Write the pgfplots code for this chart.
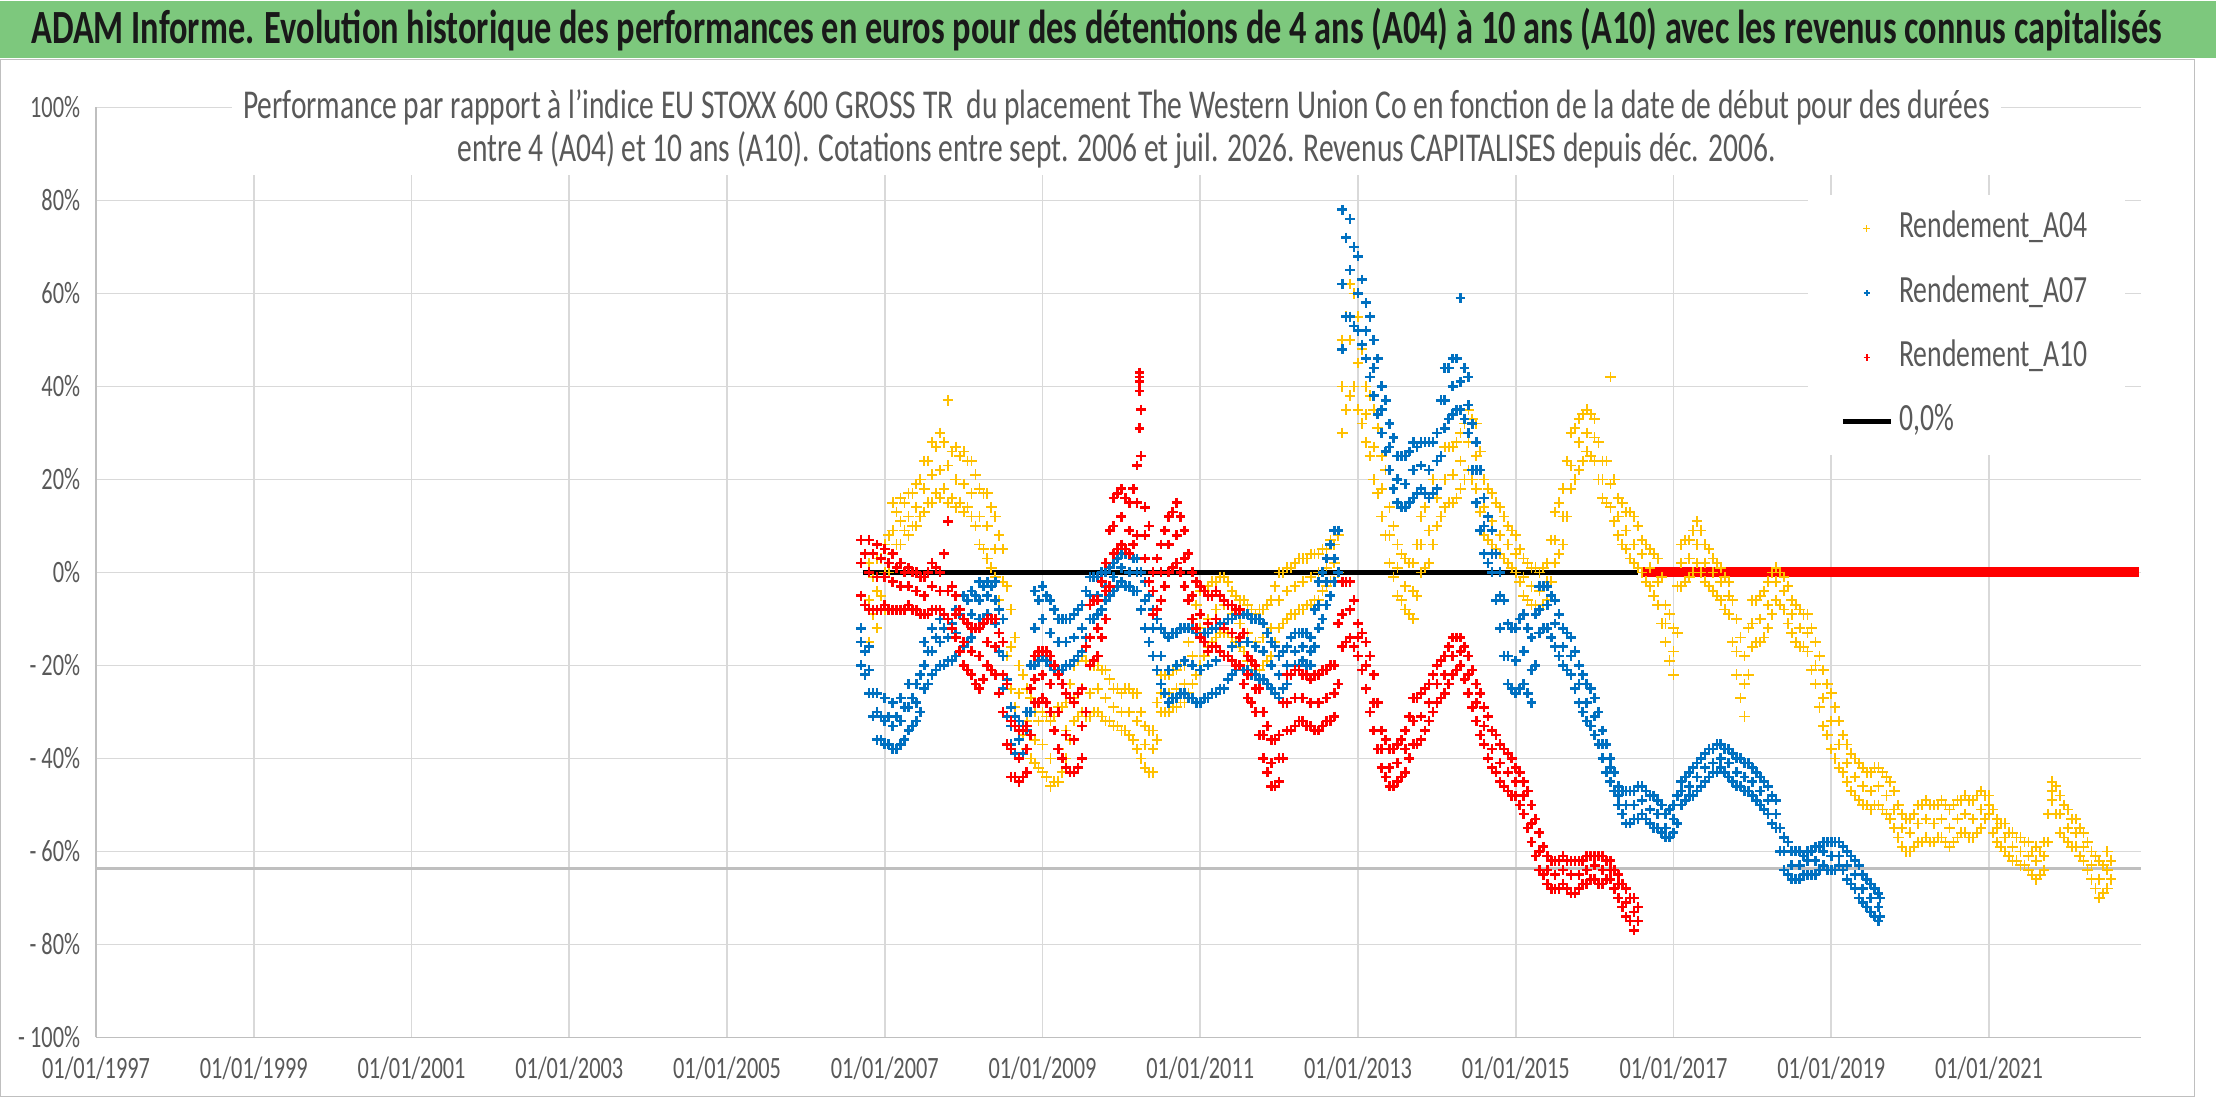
\documentclass[border=0pt]{standalone}
\usepackage{pgfplots}
\pgfplotsset{compat=1.18}
\usepackage{pgfplotstable}
\usepackage{fontspec}
\setmainfont{Carlito}[FakeStretch=0.72]
\definecolor{titlegreen}{RGB}{125,200,125}
\definecolor{txtgray}{RGB}{89,89,89}
\definecolor{gridgray}{RGB}{217,217,217}
\definecolor{axisgray}{RGB}{191,191,191}
\definecolor{ygold}{RGB}{255,192,0}
\definecolor{xblue}{RGB}{0,112,192}

% columns: t = date of a, c, e ; u = date of b, d (values in %)
\pgfplotstableread{
t u a b c d e
2006.8 2006.85 -15 -9 -6 -1 2
2006.9 2006.95 -12 -5 -4 3 3
2007.0 2007.05 -8 0 0 8 6
2007.1 2007.15 4 6 9 13 15
2007.2 2007.25 6 9 11 15 16
2007.3 2007.35 8 10 12 17 17
2007.4 2007.45 10 12 14 20 19
2007.5 2007.55 13 15 18 24 24
2007.6 2007.65 15 17 21 27 28
2007.7 2007.75 16 18 22 28 30
2007.8 2007.85 15 16 23 26 37
2007.9 2007.95 14 15 20 25 27
2008.0 2008.05 13 14 19 24 26
2008.1 2008.15 12 10 17 21 24
2008.2 2008.25 6 5 12 17 18
2008.3 2008.35 3 1 10 14 17
2008.4 2008.45 -1 -6 5 8 12
2008.5 2008.55 -10 -18 -2 -3 5
2008.6 2008.65 -25 -29 -16 -14 -8
2008.7 2008.75 -32 -35 -26 -22 -20
2008.8 2008.85 -38 -40 -32 -27 -25
2008.9 2008.95 -41 -42 -36 -32 -30
2009.0 2009.05 -43 -44 -37 -31 -30
2009.1 2009.15 -46 -45 -40 -31 -32
2009.2 2009.25 -45 -43 -38 -29 -29
2009.3 2009.35 -40 -36 -34 -24 -28
2009.4 2009.45 -32 -31 -27 -19 -20
2009.5 2009.55 -30 -31 -25 -19 -18
2009.6 2009.65 -31 -30 -26 -20 -20
2009.7 2009.75 -30 -31 -25 -21 -20
2009.8 2009.85 -32 -32 -27 -23 -21
2009.9 2009.95 -33 -33 -29 -25 -25
2010.0 2010.05 -34 -34 -30 -25 -26
2010.1 2010.15 -35 -36 -30 -26 -25
2010.2 2010.25 -38 -40 -32 -30 -26
2010.3 2010.35 -42 -43 -37 -34 -33
2010.4 2010.45 -43 -36 -38 -28 -34
2010.5 2010.55 -30 -30 -26 -22 -22
2010.6 2010.65 -30 -29 -26 -21 -22
2010.7 2010.75 -29 -28 -25 -20 -21
2010.8 2010.85 -28 -26 -24 -15 -20
2010.9 2010.95 -24 -22 -18 -7 -10
2011.0 2011.05 -20 -18 -12 -4 -4
2011.1 2011.15 -16 -15 -10 -2 -3
2011.2 2011.25 -14 -13 -8 -1 -2
2011.3 2011.35 -13 -13 -7 -2 -1
2011.4 2011.45 -14 -15 -9 -5 -4
2011.5 2011.55 -16 -17 -11 -6 -6
2011.6 2011.65 -19 -20 -13 -8 -7
2011.7 2011.75 -21 -21 -15 -8 -9
2011.8 2011.85 -20 -19 -14 -7 -8
2011.9 2011.95 -18 -15 -12 -3 -6
2012.0 2012.05 -12 -11 -6 0 0
2012.1 2012.15 -10 -9 -4 1 1
2012.2 2012.25 -9 -8 -3 3 2
2012.3 2012.35 -8 -7 -2 3 3
2012.4 2012.45 -7 -6 -1 4 4
2012.5 2012.55 -6 -4 0 5 4
2012.6 2012.65 -3 -2 1 7 5
2012.7 2012.75 -2 0 2 8 6
2012.8 2012.85 30 35 40 55 50
2012.9 2012.95 38 40 50 60 62
2013.0 2013.05 35 32 45 48 55
2013.1 2013.15 28 25 34 38 40
2013.2 2013.25 20 17 27 31 35
2013.3 2013.35 12 8 18 22 25
2013.4 2013.45 2 -1 8 10 14
2013.5 2013.55 -5 -6 1 4 6
2013.6 2013.65 -8 -9 -3 2 3
2013.7 2013.75 -10 -5 -4 6 2
2013.8 2013.85 0 1 6 14 12
2013.9 2013.95 2 6 9 20 16
2014.0 2014.05 10 12 16 25 24
2014.1 2014.15 14 15 20 27 27
2014.2 2014.25 15 16 21 28 27
2014.3 2014.35 18 20 24 32 30
2014.4 2014.45 22 20 28 33 35
2014.5 2014.55 18 13 25 26 32
2014.6 2014.65 8 7 14 18 20
2014.7 2014.75 6 5 11 15 17
2014.8 2014.85 4 3 8 12 14
2014.9 2014.95 2 1 6 9 10
2015.0 2015.05 0 -2 4 5 8
2015.1 2015.15 -5 -6 -1 2 3
2015.2 2015.25 -7 -7 -3 1 1
2015.3 2015.35 -8 -7 -4 1 0
2015.4 2015.45 -6 -2 -2 7 2
2015.5 2015.55 2 4 7 15 13
2015.6 2015.65 6 12 12 24 18
2015.7 2015.75 18 20 23 31 30
2015.8 2015.85 22 24 28 34 33
2015.9 2015.95 26 25 30 34 35
2016.0 2016.05 24 20 29 28 33
2016.1 2016.15 16 15 20 24 24
2016.2 2016.25 14 11 19 20 42
2016.3 2016.35 8 6 12 15 16
2016.4 2016.45 5 3 9 13 13
2016.5 2016.55 2 1 6 10 12
2016.6 2016.65 0 -2 4 6 7
2016.7 2016.75 -3 -5 1 4 5
2016.8 2016.85 -7 -11 -2 -1 3
2016.9 2016.95 -15 -19 -11 -9 -7
2017.0 2017.05 -22 -13 -17 -3 -12
2017.1 2017.15 -3 -2 2 7 6
2017.2 2017.25 -1 0 3 9 7
2017.3 2017.35 2 0 6 9 11
2017.4 2017.45 -2 -3 2 5 6
2017.5 2017.55 -4 -5 0 2 3
2017.6 2017.65 -6 -8 -2 -1 1
2017.7 2017.75 -9 -15 -5 -6 -2
2017.8 2017.85 -22 -27 -17 -14 -10
2017.9 2017.95 -31 -22 -24 -12 -18
2018.0 2018.05 -16 -15 -11 -6 -6
2018.1 2018.15 -15 -14 -10 -4 -5
2018.2 2018.25 -12 -9 -7 0 -2
2018.3 2018.35 -6 -7 -2 0 1
2018.4 2018.45 -8 -11 -4 -3 -1
2018.5 2018.55 -13 -15 -9 -7 -6
2018.6 2018.65 -16 -16 -12 -9 -8
2018.7 2018.75 -17 -21 -13 -12 -9
2018.8 2018.85 -24 -29 -20 -18 -15
2018.9 2018.95 -33 -35 -27 -24 -21
2019.0 2019.05 -38 -40 -32 -29 -26
2019.1 2019.15 -42 -43 -37 -35 -32
2019.2 2019.25 -45 -47 -41 -39 -37
2019.3 2019.35 -48 -49 -44 -41 -40
2019.4 2019.45 -50 -50 -46 -43 -42
2019.5 2019.55 -51 -50 -47 -42 -43
2019.6 2019.65 -50 -51 -46 -43 -42
2019.7 2019.75 -52 -53 -48 -45 -44
2019.8 2019.85 -55 -57 -51 -50 -47
2019.9 2019.95 -59 -60 -55 -53 -52
2020.0 2020.05 -60 -59 -56 -52 -53
2020.1 2020.15 -58 -58 -54 -50 -50
2020.2 2020.25 -57 -58 -53 -50 -49
2020.3 2020.35 -58 -57 -54 -50 -50
2020.4 2020.45 -57 -58 -53 -50 -49
2020.5 2020.55 -59 -58 -55 -50 -51
2020.6 2020.65 -57 -56 -53 -49 -49
2020.7 2020.75 -56 -57 -52 -49 -48
2020.8 2020.85 -57 -56 -53 -48 -49
2020.9 2020.95 -55 -53 -51 -48 -47
2021.0 2021.05 -52 -56 -50 -51 -48
2021.1 2021.15 -58 -59 -55 -54 -53
2021.2 2021.25 -60 -61 -57 -56 -54
2021.3 2021.35 -62 -62 -59 -57 -56
2021.4 2021.45 -63 -63 -60 -58 -57
2021.5 2021.55 -64 -65 -61 -60 -58
2021.6 2021.65 -66 -65 -62 -60 -59
2021.7 2021.75 -64 -58 -61 -52 -58
2021.8 2021.85 -49 -52 -47 -46 -45
2021.9 2021.95 -56 -57 -52 -50 -48
2022.0 2022.05 -58 -59 -55 -53 -51
2022.1 2022.15 -59 -61 -56 -55 -53
2022.2 2022.25 -62 -64 -59 -58 -56
2022.3 2022.35 -66 -68 -63 -61 -60
2022.4 2022.45 -70 -69 -66 -63 -62
2022.5 2022.55 -68 -66 -64 -62 -60
}\dataA

\pgfplotstableread{
t u a b c d e
2006.7 2006.75 -20 -22 -15 -17 -12
2006.8 2006.85 -26 -31 -21 -26 -16
2006.9 2006.95 -36 -36 -30 -31 -26
2007.0 2007.05 -37 -37 -32 -31 -27
2007.1 2007.15 -38 -38 -33 -31 -28
2007.2 2007.25 -37 -36 -32 -29 -27
2007.3 2007.35 -34 -33 -29 -27 -24
2007.4 2007.45 -32 -30 -28 -22 -24
2007.5 2007.55 -25 -24 -20 -17 -15
2007.6 2007.65 -22 -21 -17 -14 -12
2007.7 2007.75 -20 -20 -15 -12 -10
2007.8 2007.85 -19 -19 -14 -11 -10
2007.9 2007.95 -18 -17 -13 -9 -8
2008.0 2008.05 -16 -15 -10 -6 -5
2008.1 2008.15 -14 -12 -9 -5 -4
2008.2 2008.25 -10 -10 -6 -3 -2
2008.3 2008.35 -9 -10 -5 -3 -2
2008.4 2008.45 -11 -17 -6 -8 -2
2008.5 2008.55 -25 -31 -18 -23 -10
2008.6 2008.65 -37 -39 -33 -31 -29
2008.7 2008.75 -40 -39 -36 -33 -32
2008.8 2008.85 -38 -30 -34 -20 -30
2008.9 2008.95 -20 -19 -12 -6 -4
2009.0 2009.05 -18 -19 -10 -5 -3
2009.1 2009.15 -20 -21 -13 -8 -6
2009.2 2009.25 -21 -21 -15 -10 -10
2009.3 2009.35 -20 -20 -15 -10 -10
2009.4 2009.45 -19 -18 -14 -8 -9
2009.5 2009.55 -17 -14 -12 -4 -7
2009.6 2009.65 -10 -10 -5 -1 -1
2009.7 2009.75 -9 -8 -5 0 -1
2009.8 2009.85 -6 -5 -3 1 0
2009.9 2009.95 -4 -3 -1 3 2
2010.0 2010.05 -2 -3 1 4 4
2010.1 2010.15 -3 -4 0 3 4
2010.2 2010.25 -4 -8 0 0 3
2010.3 2010.35 -12 -15 -6 -5 -2
2010.4 2010.45 -18 -21 -12 -10 -8
2010.5 2010.55 -24 -26 -18 -13 -12
2010.6 2010.65 -28 -27 -21 -13 -14
2010.7 2010.75 -27 -26 -20 -12 -13
2010.8 2010.85 -26 -27 -19 -12 -12
2010.9 2010.95 -27 -28 -20 -13 -12
2011.0 2011.05 -28 -27 -21 -13 -14
2011.1 2011.15 -27 -26 -20 -12 -13
2011.2 2011.25 -26 -25 -19 -11 -12
2011.3 2011.35 -25 -23 -18 -10 -11
2011.4 2011.45 -22 -21 -16 -9 -10
2011.5 2011.55 -20 -21 -15 -9 -9
2011.6 2011.65 -21 -22 -15 -10 -9
2011.7 2011.75 -22 -23 -16 -10 -10
2011.8 2011.85 -23 -24 -17 -13 -11
2011.9 2011.95 -25 -26 -20 -16 -15
2012.0 2012.05 -27 -25 -22 -17 -18
2012.1 2012.15 -24 -22 -20 -14 -16
2012.2 2012.25 -20 -20 -17 -13 -13
2012.3 2012.35 -19 -20 -16 -13 -13
2012.4 2012.45 -20 -16 -17 -8 -14
2012.5 2012.55 -12 -10 -7 0 -2
2012.6 2012.65 -7 -5 -2 6 3
2012.7 2012.75 -2 0 3 9 9
2012.8 2012.85 48 55 62 72 78
2012.9 2012.95 55 53 65 70 76
2013.0 2013.05 52 49 60 63 68
2013.1 2013.15 46 42 52 55 58
2013.2 2013.25 38 34 44 46 50
2013.3 2013.35 30 26 35 37 40
2013.4 2013.45 22 18 27 29 32
2013.5 2013.55 15 14 20 25 25
2013.6 2013.65 14 15 19 26 25
2013.7 2013.75 16 17 22 27 28
2013.8 2013.85 18 17 23 28 28
2013.9 2013.95 16 17 22 28 28
2014.0 2014.05 18 25 24 37 30
2014.1 2014.15 31 33 37 44 44
2014.2 2014.25 34 35 40 46 46
2014.3 2014.35 35 33 41 44 59
2014.4 2014.45 30 22 36 32 42
2014.5 2014.55 15 9 22 22 28
2014.6 2014.65 4 2 10 12 16
2014.7 2014.75 0 -6 4 4 9
2014.8 2014.85 -12 -18 -5 -6 0
2014.9 2014.95 -24 -25 -18 -12 -11
2015.0 2015.05 -26 -25 -19 -10 -12
2015.1 2015.15 -24 -26 -17 -12 -9
2015.2 2015.25 -28 -20 -21 -9 -14
2015.3 2015.35 -13 -12 -8 -3 -3
2015.4 2015.45 -12 -14 -7 -5 -3
2015.5 2015.55 -16 -18 -11 -9 -6
2015.6 2015.65 -20 -21 -16 -13 -12
2015.7 2015.75 -22 -25 -18 -17 -14
2015.8 2015.85 -28 -30 -24 -22 -20
2015.9 2015.95 -32 -33 -28 -25 -24
2016.0 2016.05 -35 -37 -31 -30 -27
2016.1 2016.15 -40 -43 -37 -37 -34
2016.2 2016.25 -45 -47 -42 -43 -40
2016.3 2016.35 -50 -52 -48 -47 -46
2016.4 2016.45 -54 -54 -50 -47 -47
2016.5 2016.55 -53 -53 -50 -46 -47
2016.6 2016.65 -52 -53 -49 -47 -46
2016.7 2016.75 -54 -55 -51 -48 -48
2016.8 2016.85 -55 -56 -52 -50 -49
2016.9 2016.95 -57 -57 -55 -51 -52
2017.0 2017.05 -56 -54 -53 -48 -50
2017.1 2017.15 -50 -49 -47 -44 -45
2017.2 2017.25 -48 -48 -46 -42 -43
2017.3 2017.35 -47 -46 -44 -40 -41
2017.4 2017.45 -45 -44 -42 -38 -39
2017.5 2017.55 -43 -43 -41 -37 -38
2017.6 2017.65 -42 -43 -40 -38 -37
2017.7 2017.75 -44 -45 -41 -39 -38
2017.8 2017.85 -46 -46 -43 -40 -40
2017.9 2017.95 -47 -47 -44 -41 -41
2018.0 2018.05 -48 -49 -45 -43 -42
2018.1 2018.15 -50 -51 -47 -45 -44
2018.2 2018.25 -52 -54 -49 -48 -46
2018.3 2018.35 -55 -60 -52 -55 -49
2018.4 2018.45 -64 -65 -60 -58 -57
2018.5 2018.55 -66 -66 -63 -60 -60
2018.6 2018.65 -66 -65 -63 -61 -60
2018.7 2018.75 -65 -65 -62 -60 -60
2018.8 2018.85 -65 -64 -62 -59 -59
2018.9 2018.95 -63 -64 -60 -58 -58
2019.0 2019.05 -64 -64 -61 -58 -58
2019.1 2019.15 -63 -64 -61 -59 -58
2019.2 2019.25 -66 -67 -63 -61 -60
2019.3 2019.35 -68 -70 -65 -63 -62
2019.4 2019.45 -71 -72 -68 -66 -65
2019.5 2019.55 -73 -74 -70 -68 -67
2019.6 2019.62 -75 -74 -72 -70 -69
}\dataB

\pgfplotstableread{
t u a b c d e
2006.7 2006.75 -5 -7 2 4 7
2006.8 2006.85 -8 -8 0 4 7
2006.9 2006.95 -8 -8 -1 3 6
2007.0 2007.05 -7 -8 -1 2 5
2007.1 2007.15 -8 -8 -2 1 4
2007.2 2007.25 -8 -8 -3 0 2
2007.3 2007.35 -7 -8 -3 0 1
2007.4 2007.45 -8 -9 -4 -1 0
2007.5 2007.55 -9 -9 -5 0 -1
2007.6 2007.65 -8 -8 -3 1 2
2007.7 2007.75 -8 -9 -4 4 0
2007.8 2007.85 -10 -12 -4 -3 11
2007.9 2007.95 -14 -17 -9 -8 -5
2008.0 2008.05 -20 -21 -15 -11 -10
2008.1 2008.15 -22 -24 -17 -12 -12
2008.2 2008.25 -25 -23 -18 -11 -12
2008.3 2008.35 -20 -21 -15 -10 -10
2008.4 2008.45 -22 -26 -16 -13 -10
2008.5 2008.55 -30 -37 -22 -24 -15
2008.6 2008.65 -44 -44 -38 -33 -32
2008.7 2008.75 -45 -44 -40 -34 -34
2008.8 2008.85 -43 -35 -38 -25 -33
2008.9 2008.95 -28 -28 -23 -17 -18
2009.0 2009.05 -27 -28 -22 -17 -17
2009.1 2009.15 -30 -34 -24 -20 -18
2009.2 2009.25 -38 -40 -30 -24 -22
2009.3 2009.35 -42 -43 -35 -27 -26
2009.4 2009.45 -43 -42 -36 -26 -28
2009.5 2009.55 -40 -30 -33 -16 -25
2009.6 2009.65 -20 -19 -14 -6 -7
2009.7 2009.75 -18 -14 -12 -2 -6
2009.8 2009.85 -10 -3 -4 9 2
2009.9 2009.95 4 5 10 17 16
2010.0 2010.05 6 5 12 16 18
2010.1 2010.15 4 6 9 18 15
2010.2 2010.25 8 25 15 35 23
2010.23 2010.23 31 41 39 42 43
2010.3 2010.35 3 -2 8 10 14
2010.4 2010.45 -9 -8 -4 3 0
2010.5 2010.55 -6 -3 0 9 6
2010.6 2010.65 0 1 6 13 12
2010.7 2010.75 2 0 8 12 15
2010.8 2010.85 -3 -6 3 4 9
2010.9 2010.95 -10 -12 -5 -2 0
2011.0 2011.05 -14 -15 -9 -4 -3
2011.1 2011.15 -17 -16 -11 -5 -5
2011.2 2011.25 -16 -17 -10 -5 -4
2011.3 2011.35 -18 -18 -12 -7 -6
2011.4 2011.45 -19 -20 -13 -8 -7
2011.5 2011.55 -20 -24 -14 -13 -8
2011.6 2011.65 -27 -28 -22 -19 -18
2011.7 2011.75 -30 -35 -25 -25 -20
2011.8 2011.85 -40 -43 -35 -33 -30
2011.9 2011.95 -46 -46 -41 -36 -36
2012.0 2012.05 -45 -40 -40 -28 -35
2012.1 2012.15 -34 -34 -28 -22 -22
2012.2 2012.25 -33 -32 -27 -21 -21
2012.3 2012.35 -32 -33 -27 -22 -22
2012.4 2012.45 -33 -34 -28 -22 -23
2012.5 2012.55 -34 -33 -28 -21 -22
2012.6 2012.65 -32 -32 -27 -20 -21
2012.7 2012.75 -31 -24 -26 -11 -20
2012.8 2012.85 -16 -15 -9 -2 -2
2012.9 2012.95 -14 -16 -8 -6 -2
2013.0 2013.05 -18 -21 -14 -13 -11
2013.1 2013.15 -25 -30 -20 -18 -15
2013.2 2013.25 -34 -38 -28 -28 -22
2013.3 2013.35 -42 -44 -38 -36 -34
2013.4 2013.45 -46 -46 -42 -38 -38
2013.5 2013.55 -45 -44 -41 -36 -37
2013.6 2013.65 -43 -40 -38 -31 -34
2013.7 2013.75 -37 -37 -32 -27 -27
2013.8 2013.85 -36 -34 -31 -25 -26
2013.9 2013.95 -32 -30 -28 -22 -24
2014.0 2014.05 -28 -27 -24 -19 -20
2014.1 2014.15 -26 -24 -22 -16 -18
2014.2 2014.25 -22 -21 -18 -14 -14
2014.3 2014.35 -20 -23 -17 -16 -14
2014.4 2014.45 -26 -29 -22 -21 -18
2014.5 2014.55 -32 -35 -28 -26 -24
2014.6 2014.65 -37 -40 -33 -31 -29
2014.7 2014.75 -42 -43 -38 -35 -34
2014.8 2014.85 -45 -46 -41 -38 -37
2014.9 2014.95 -47 -48 -43 -40 -39
2015.0 2015.05 -48 -50 -45 -43 -42
2015.1 2015.15 -52 -55 -48 -47 -45
2015.2 2015.25 -58 -61 -54 -53 -50
2015.3 2015.35 -64 -65 -60 -59 -56
2015.4 2015.45 -67 -68 -64 -62 -61
2015.5 2015.55 -68 -68 -65 -62 -62
2015.6 2015.65 -67 -68 -64 -62 -61
2015.7 2015.75 -69 -69 -65 -62 -62
2015.8 2015.85 -68 -67 -65 -62 -62
2015.9 2015.95 -67 -66 -64 -61 -61
2016.0 2016.05 -66 -67 -63 -61 -61
2016.1 2016.15 -67 -66 -64 -62 -61
2016.2 2016.25 -66 -68 -64 -64 -62
2016.3 2016.35 -70 -72 -67 -67 -65
2016.4 2016.45 -74 -75 -71 -70 -68
2016.5 2016.55 -77 -75 -73 -72 -70
}\dataC

\pgfplotstableread{
t v
2016.6 0
2016.7 0
2016.8 0
2016.9 0
2017.0 0
2017.1 0
2017.2 0
2017.3 0
2017.4 0
2017.5 0
2017.6 0
2017.7 0
2017.8 0
2017.9 0
2018.0 0
2018.1 0
2018.2 0
2018.3 0
2018.4 0
2018.5 0
2018.6 0
2018.7 0
2018.8 0
2018.9 0
2019.0 0
2019.1 0
2019.2 0
2019.3 0
2019.4 0
2019.5 0
2019.6 0
2019.7 0
2019.8 0
2019.9 0
2020.0 0
2020.1 0
2020.2 0
2020.3 0
2020.4 0
2020.5 0
2020.6 0
2020.7 0
2020.8 0
2020.9 0
2021.0 0
2021.1 0
2021.2 0
2021.3 0
2021.4 0
2021.5 0
2021.6 0
2021.7 0
2021.8 0
2021.9 0
2022.0 0
2022.1 0
2022.2 0
2022.3 0
2022.4 0
2022.5 0
2022.6 0
2022.7 0
2022.8 0
2022.9 0
}\dataZ

\pgfplotsset{
  ystyle/.style={forget plot, only marks, mark=+, color=ygold, mark size=0.75mm, line width=0.7pt},
  bstyle/.style={forget plot, only marks, mark=+, color=xblue, mark size=0.7mm, line width=1.05pt},
  rstyle/.style={forget plot, only marks, mark=+, color=red, mark size=0.7mm, line width=1.05pt},
}

\begin{document}
\begin{tikzpicture}[x=0.2mm,y=0.2mm]
% canvas
\fill[white] (0,0) rectangle (1568,780);
\draw[axisgray, line width=0.5pt] (0.5,5) rectangle (1553,739);
\fill[titlegreen] (0,740) rectangle (1568,780);
\node[font=\bfseries\fontsize{19.2}{22}\selectfont, text=black!90] at (776,760)
 {ADAM Informe. Evolution historique des performances en euros pour des détentions de 4 ans (A04) à 10 ans (A10) avec les revenus connus capitalisés};

\begin{axis}[
  at={(13.6mm,9.4mm)}, anchor=south west, scale only axis,
  width=289.4mm, height=131.6mm,
  xmin=1997, xmax=2022.93, ymin=-100, ymax=100,
  axis x line*=bottom, axis y line*=left,
  axis line style={draw=axisgray, line width=0.7pt},
  xtick={1997,1999,2001,2003,2005,2007,2009,2011,2013,2015,2017,2019,2021},
  xticklabels={01/01/1997,01/01/1999,01/01/2001,01/01/2003,01/01/2005,01/01/2007,01/01/2009,01/01/2011,01/01/2013,01/01/2015,01/01/2017,01/01/2019,01/01/2021},
  ytick={-100,-80,-60,-40,-20,0,20,40,60,80,100},
  yticklabels={- 100\%,- 80\%,- 60\%,- 40\%,- 20\%,0\%,20\%,40\%,60\%,80\%,100\%},
  major tick length=0pt,
  grid=major, major grid style={draw=gridgray, line width=0.7pt},
  tick label style={font=\fontsize{12.5}{14}\selectfont, text=txtgray, inner sep=0pt},
  yticklabel style={anchor=east, xshift=-2.2mm},
  xticklabel style={anchor=north, yshift=-2.7mm},
  legend cell align=left,
  legend style={at={(0.837,0.906)}, anchor=north west, fill=white, draw=none,
    font=\fontsize{15.5}{18}\selectfont, text=txtgray,
    inner xsep=4.5mm, inner ysep=2.5mm, row sep=4.6mm,
    nodes={inner xsep=0.8mm, inner ysep=0pt, text height=3.5mm, text depth=1mm}},
  clip=false,
]
\addplot[forget plot, axisgray, line width=1.3pt] coordinates {(1997,-63.7) (2022.93,-63.7)};

\addplot[only marks, mark=+, color=ygold, mark size=0.75mm, line width=0.7pt,
  legend image code/.code={\draw[line width=0.45pt, mark size=0.5mm] plot coordinates {(0.34cm,0cm)};}] table[x=t,y=c] {\dataA};
\addlegendentry{Rendement\_A04}
\addplot[ystyle] table[x=t,y=a] {\dataA};
\addplot[ystyle] table[x=t,y=e] {\dataA};
\addplot[ystyle] table[x=u,y=b] {\dataA};
\addplot[ystyle] table[x=u,y=d] {\dataA};

\addplot[only marks, mark=+, color=xblue, mark size=0.7mm, line width=1.05pt,
  legend image code/.code={\draw[line width=0.6pt, mark size=0.45mm] plot coordinates {(0.34cm,0cm)};}] table[x=t,y=c] {\dataB};
\addlegendentry{Rendement\_A07}
\addplot[bstyle] table[x=t,y=a] {\dataB};
\addplot[bstyle] table[x=t,y=e] {\dataB};
\addplot[bstyle] table[x=u,y=b] {\dataB};
\addplot[bstyle] table[x=u,y=d] {\dataB};

\addplot[only marks, mark=+, color=red, mark size=0.7mm, line width=1.05pt,
  legend image code/.code={\draw[line width=0.6pt, mark size=0.45mm] plot coordinates {(0.34cm,0cm)};}] table[x=t,y=c] {\dataC};
\addlegendentry{Rendement\_A10}
\addplot[rstyle] table[x=t,y=a] {\dataC};
\addplot[rstyle] table[x=t,y=e] {\dataC};
\addplot[rstyle] table[x=u,y=b] {\dataC};
\addplot[rstyle] table[x=u,y=d] {\dataC};
\addplot[forget plot, red, line width=1.4mm] table[x=t,y=v] {\dataZ};

\addplot[black, line width=0.75mm,
  legend image code/.code={\draw (0cm,0cm) -- (0.68cm,0cm);}] coordinates {(2006.72,0) (2016.55,0)};
\addlegendentry{0,0\%}
\end{axis}

\node[fill=white, align=center, text=txtgray, font=\fontsize{16.5}{17.3}\selectfont,
  inner xsep=1.6mm, inner ysep=1mm] at (790,690)
 {Performance par rapport à l'indice EU STOXX 600 GROSS TR\ \ du placement The Western Union Co en fonction de la date de début pour des durées\\
  entre 4 (A04) et 10 ans (A10). Cotations entre sept. 2006 et juil. 2026. Revenus CAPITALISES depuis déc. 2006.};
\end{tikzpicture}
\end{document}
